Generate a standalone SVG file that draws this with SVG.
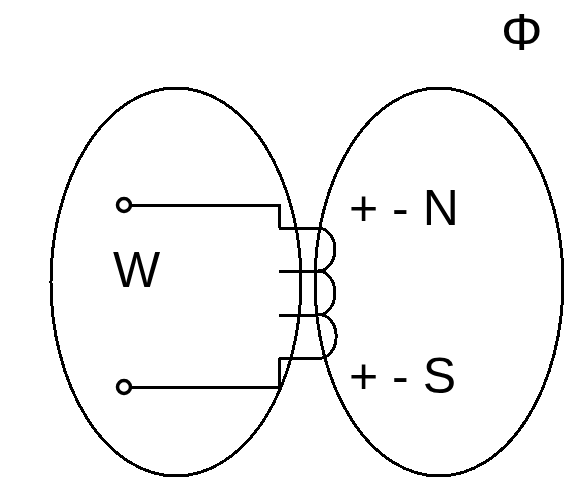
<svg xmlns="http://www.w3.org/2000/svg" width="580" height="489" viewBox="0 0 580 489">
<style>.l{fill:none;stroke:#000;stroke-width:3;shape-rendering:crispEdges}.w{fill:none;stroke:#000;stroke-width:3;shape-rendering:crispEdges}.t{fill:none;stroke:#000;stroke-width:3.5}text{font-family:"Liberation Sans",Arial,sans-serif;font-size:50px;fill:#000}</style>
<rect width="580" height="489" fill="#fff"/>
<g id="core-left"><ellipse class="l" cx="176" cy="282" rx="125" ry="194"/></g>
<g id="core-right"><ellipse class="l" cx="439" cy="282" rx="124" ry="194"/></g>
<g id="terminal-top"><circle class="t" cx="124" cy="205" r="6.5"/></g>
<g id="terminal-bottom"><circle class="t" cx="124" cy="387" r="6.5"/></g>
<g id="coil"><path class="l" d="M279 228H318A17 21.5 0 0 1 318 271H279M318 271A17 22 0 0 1 318 315H279M318 315A16 21.5 0 0 1 322 358H279"/></g>
<g id="connectors"><path class="w" d="M131 205H279V228M131 387H279V358"/></g>
<g id="labels"><text x="113" y="287">W</text><text x="349" y="225">+ - N</text><text x="349" y="393">+ - S</text><text x="501" y="50" style="font-size:52px">Φ</text></g>
</svg>
